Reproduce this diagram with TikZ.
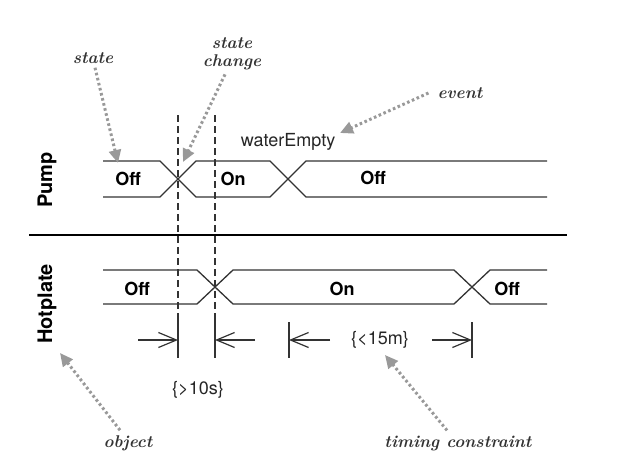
\documentclass[tikz,border=0pt]{standalone}
\usepackage{fontspec}
\newfontfamily\helv{TeX Gyre Heros}
\usetikzlibrary{arrows.meta}
\begin{document}
\begin{tikzpicture}[x=1pt,y=-1pt,
  band/.style={line width=1.3pt, black!80},
  statelbl/.style={font=\helv\bfseries\fontsize{18}{20}\selectfont, inner sep=0pt},
  objlbl/.style={font=\helv\bfseries\fontsize{20}{22}\selectfont, rotate=90, inner sep=0pt},
  txt/.style={font=\helv\fontsize{18}{20}\selectfont, inner sep=0pt, text=black!85},
  note/.style={font=\bfseries\itshape\fontsize{17}{18}\selectfont, text=black!80, inner sep=1pt},
  pointer/.style={draw=gray!80, line width=3pt, dash pattern=on 2.6pt off 2.6pt, -{Triangle[length=13pt,width=12pt,fill=gray!80]}},
  vguide/.style={line width=1.2pt, black!80, dash pattern=on 7pt off 4pt},
  tickline/.style={line width=1.2pt, black!80},
  dim/.style={line width=1.2pt, black!80, -{Straight Barb[length=18pt,width=15pt,line width=1.2pt]}}
]
\useasboundingbox (0,0) rectangle (617,469);
% Pump lifeline
\draw[band] (103,161) -- (160,161) -- (196,197) -- (270,197) -- (306,161) -- (547,161);
\draw[band] (103,197) -- (160,197) -- (196,161) -- (270,161) -- (306,197) -- (547,197);
% Hotplate lifeline
\draw[band] (103,270) -- (197,270) -- (233,304) -- (454,304) -- (490,270) -- (547,270);
\draw[band] (103,304) -- (197,304) -- (233,270) -- (454,270) -- (490,304) -- (547,304);
% separator
\draw[line width=2.5pt] (29,235) -- (567,235);
% labels
\node[statelbl] (poff) at (128,179) {Off};
\node[statelbl] (pon) at (233,179) {On};
\node[statelbl] (poff2) at (373,178) {Off};
\node[statelbl] (hoff) at (137,289) {Off};
\node[statelbl] (hon) at (342,289) {On};
\node[statelbl] (hoff2) at (507,289) {Off};
\node[objlbl] (pump) at (47,180) {Pump};
\node[objlbl] (hot) at (47,304) {Hotplate};
\node[txt] (evt) at (288,142) {waterEmpty};
\node[txt] (c1) at (198,390) {\{>10s\}};
\node[txt] (c2) at (380,340) {\{<15m\}};
% guides and ticks
\coordinate (ga) at (178,115); \coordinate (gb) at (178,320); \coordinate (gc) at (178,358);
\coordinate (ha) at (215,115); \coordinate (hb) at (215,320); \coordinate (hc) at (215,358);
\draw[vguide] (ga) -- (gb);
\draw[vguide] (ha) -- (hb);
\draw[tickline] (gb) -- (gc);
\draw[tickline] (hb) -- (hc);
\coordinate (ka) at (289,322); \coordinate (kb) at (289,358);
\coordinate (la) at (472,322); \coordinate (lb) at (472,358);
\draw[tickline] (ka) -- (kb);
\draw[tickline] (la) -- (lb);
% dimension arrows
\coordinate (d1s) at (138,340); \coordinate (d1e) at (178,340);
\coordinate (d2s) at (255,340); \coordinate (d2e) at (215,340);
\coordinate (d3s) at (330,340); \coordinate (d3e) at (289,340);
\coordinate (d4s) at (432,340); \coordinate (d4e) at (472,340);
\draw[dim] (d1s) -- (d1e);
\draw[dim] (d2s) -- (d2e);
\draw[dim] (d3s) -- (d3e);
\draw[dim] (d4s) -- (d4e);
% annotations
\node[note] (nstate) at (93,58) {state};
\node[note,align=center] (nchange) at (232,54) {state\\change};
\node[note] (nevent) at (460,93) {event};
\node[note] (nobject) at (128,443) {object};
\node[note] (ntiming) at (458,443) {timing constraint};
\coordinate (tstate) at (118,163);
\coordinate (tchange) at (183,162);
\coordinate (tevent) at (340,133);
\coordinate (tobject) at (60,353);
\coordinate (ttiming) at (385,355);
\draw[pointer] ([xshift=2pt,yshift=-3pt]nstate.south) -- (tstate);
\draw[pointer] ([xshift=-7pt,yshift=-3pt]nchange.south) -- (tchange);
\draw[pointer] ([xshift=-8pt]nevent.west) -- (tevent);
\draw[pointer] ([xshift=-8pt,yshift=4pt]nobject.north) -- (tobject);
\draw[pointer] ([xshift=-11pt,yshift=4pt]ntiming.north) -- (ttiming);
\end{tikzpicture}
\end{document}
